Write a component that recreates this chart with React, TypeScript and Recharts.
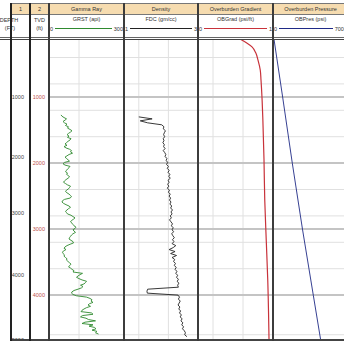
import React from 'react';
import { LineChart, Line, XAxis, YAxis, CartesianGrid, ReferenceLine } from 'recharts';

// Vertical window of the log, true vertical depth (ft)
const TVD_TOP = 120;
const TVD_BOTTOM = 4680;
const GRID_TVD = [200, 400, 600, 800, 1000, 1200, 1400, 1600, 1800, 2000, 2200, 2400, 2600, 2800, 3000, 3200, 3400, 3600, 3800, 4000, 4200, 4400, 4600];
const MAJOR_TVD = [1000, 2000, 3000, 4000];

// Depth track labels: measured depth and the TVD at which each one sits
const MD_LABELS = [1000, 2000, 3000, 4000, 5000];
const MD_LABEL_TVD = [1000, 1910, 2760, 3700, 4680];
const TVD_LABELS = [1000, 2000, 3000, 4000];

// Gamma ray (api), sampled every 20 ft from 1270 ft TVD
const GR_TOP = 1270;
const GR_STEP = 20;
const GR_API = [
  48, 52, 60, 70, 64, 56, 62, 72, 66, 78,
  74, 84, 92, 86, 78, 72, 80, 74, 88, 84,
  76, 70, 64, 72, 60, 68, 82, 90, 86, 94,
  80, 72, 64, 70, 76, 82, 62, 56, 64, 84,
  80, 74, 70, 66, 74, 70, 78, 82, 76, 68,
  62, 58, 66, 74, 86, 82, 78, 70, 66, 72,
  80, 86, 90, 84, 62, 54, 52, 58, 68, 80,
  86, 78, 72, 66, 70, 74, 88, 96, 104, 98,
  90, 86, 92, 96, 100, 108, 104, 96, 100, 106,
  96, 90, 86, 82, 80, 88, 96, 98, 84, 72,
  64, 60, 68, 58, 54, 56, 62, 60, 66, 72,
  70, 76, 82, 88, 84, 78, 86, 92, 100, 96,
  134, 124, 116, 110, 120, 132, 150, 146, 140, 126,
  136, 130, 116, 100, 92, 90, 96, 110, 150, 164,
  172, 168, 176, 162, 156, 166, 150, 140, 132, 128,
  170, 176, 134, 126, 148, 158, 186, 144, 132, 176,
  160, 182, 188, 172, 192, 186, 198,
];

// Bulk density (g/cc), sampled every 30 ft from 1300 ft TVD
const RHOB_TOP = 1300;
const RHOB_STEP = 30;
const RHOB = [
  1.40, 1.76, 1.44, 1.64, 2.02, 2.08, 2.06, 2.12, 2.09, 2.07,
  2.10, 2.06, 2.08, 2.05, 2.09, 2.07, 2.11, 2.06, 2.10, 2.13,
  2.11, 2.16, 2.14, 2.18, 2.15, 2.20, 2.17, 2.22, 2.19, 2.24,
  2.21, 2.25, 2.19, 2.22, 2.18, 2.21, 2.17, 2.23, 2.20, 2.25,
  2.22, 2.26, 2.23, 2.27, 2.24, 2.29, 2.26, 2.31, 2.27, 2.30,
  2.25, 2.28, 2.23, 2.27, 2.31, 2.28, 2.33, 2.30, 2.34, 2.29,
  2.32, 2.36, 2.31, 2.35, 2.30, 2.40, 2.33, 2.22, 2.38, 2.26,
  2.42, 2.30, 2.37, 2.34, 2.39, 2.36, 2.41, 2.38, 2.43, 2.40,
  2.45, 2.42, 2.47, 2.44, 2.48, 2.45, 2.47, 1.64, 1.62, 1.63,
  2.46, 2.50, 2.47, 2.52, 2.49, 2.46, 2.51, 2.48, 2.53, 2.50,
  2.55, 2.52, 2.57, 2.54, 2.59, 2.56, 2.61, 2.58, 2.63, 2.66,
  2.64, 2.70,
];

// Overburden gradient (psi/ft)
const OBG_TVD = [120, 180, 240, 330, 440, 590, 740, 1050, 1350, 1950, 2560, 3170, 3770, 4680];
const OBG = [0.56, 0.65, 0.72, 0.77, 0.8, 0.83, 0.84, 0.855, 0.865, 0.88, 0.89, 0.91, 0.93, 0.947];

// Overburden pressure (psi)
const OBP_TVD = [120, 1000, 2000, 3000, 4000, 4680];
const OBP = [90, 900, 1800, 2750, 3760, 4450];

const grData = GR_API.map((gr, i) => ({ tvd: GR_TOP + i * GR_STEP, gr }));
const rhobData = RHOB.map((rhob, i) => ({ tvd: RHOB_TOP + i * RHOB_STEP, rhob }));
const obgData = OBG_TVD.map((tvd, i) => ({ tvd, obg: OBG[i] }));
const obpData = OBP_TVD.map((tvd, i) => ({ tvd, obp: OBP[i] }));
const depthData = MD_LABEL_TVD.map((tvd, i) => ({ tvd, md: MD_LABELS[i] }));

const FONT = '"Liberation Sans", Arial, sans-serif';
const PLOT_TOP = 39;
const PLOT_H = 301;
const LINE_DARK = '#3c3c3c';

interface TrackDef {
  left: number;
  width: number;
  title: string;
  mnemonic: string;
  lo: string;
  hi: string;
  color: string;
  data: any[];
  dataKey: string;
  domain: [number, number];
  ticks: number[];
  curve?: 'linear' | 'monotone';
}

const TRACKS: TrackDef[] = [
  { left: 49, width: 75, title: 'Gamma Ray', mnemonic: 'GRST (api)', lo: '0', hi: '300', color: '#2f8a2f', data: grData, dataKey: 'gr', domain: [0, 300], ticks: [0, 60, 120, 180, 240, 300] },
  { left: 124, width: 74, title: 'Density', mnemonic: 'FDC (gm/cc)', lo: '1', hi: '3', color: '#222222', data: rhobData, dataKey: 'rhob', domain: [1, 3], ticks: [1, 1.4, 1.8, 2.2, 2.6, 3] },
  { left: 198, width: 75, title: 'Overburden Gradient', mnemonic: 'OBGrad (psi/ft)', lo: '0', hi: '1', color: '#c8323a', data: obgData, dataKey: 'obg', domain: [0, 1], ticks: [0, 0.2, 0.4, 0.6, 0.8, 1], curve: 'monotone' },
  { left: 273, width: 75, title: 'Overburden Pressure', mnemonic: 'OBPres (psi)', lo: '0', hi: '7000', color: '#1f2a86', data: obpData, dataKey: 'obp', domain: [0, 7000], ticks: [0, 1400, 2800, 4200, 5600, 7000] },
];

function Track({ t }: { t: TrackDef }) {
  return (
    <div style={{ position: 'absolute', left: t.left, top: PLOT_TOP, width: t.width, height: PLOT_H }}>
      <LineChart width={t.width} height={PLOT_H} data={t.data} layout="vertical" margin={{ top: 0, right: 0, bottom: 0, left: 0 }}>
        <CartesianGrid stroke="#e0e0e0" strokeWidth={1} />
        <XAxis type="number" domain={t.domain} ticks={t.ticks} hide allowDataOverflow />
        <YAxis type="number" dataKey="tvd" domain={[TVD_TOP, TVD_BOTTOM]} ticks={GRID_TVD} hide allowDataOverflow />
        {MAJOR_TVD.map((v) => (
          <ReferenceLine key={v} y={v} stroke="#c4c4c4" strokeWidth={2} />
        ))}
        <Line
          type={t.curve ?? 'linear'}
          dataKey={t.dataKey}
          stroke={t.color}
          strokeWidth={t.curve ? 1.2 : 0.9}
          dot={false}
          isAnimationActive={false}
        />
      </LineChart>
    </div>
  );
}

function DepthTrack() {
  const mdTick = (p: any) => (
    <text x={24} y={p.y} dy={2} textAnchor="end" fontSize={5.5} fill="#444" fontFamily={FONT}>
      {MD_LABELS[MD_LABEL_TVD.indexOf(p.payload.value)]}
    </text>
  );
  const tvdTick = (p: any) => (
    <text x={45} y={p.y} dy={2} textAnchor="end" fontSize={5.5} fill="#c0504d" fontFamily={FONT}>
      {p.payload.value}
    </text>
  );
  return (
    <div style={{ position: 'absolute', left: 0, top: PLOT_TOP, width: 49, height: PLOT_H }}>
      <LineChart width={49} height={PLOT_H} data={depthData} layout="vertical" margin={{ top: 0, right: 0, bottom: 0, left: 0 }}>
        <XAxis type="number" domain={[0, 1]} hide />
        <YAxis yAxisId="md" type="number" dataKey="tvd" domain={[TVD_TOP, TVD_BOTTOM]} ticks={MD_LABEL_TVD} interval={0} width={1} axisLine={false} tickLine={false} tick={mdTick} allowDataOverflow />
        <YAxis yAxisId="tvd" type="number" dataKey="tvd" domain={[TVD_TOP, TVD_BOTTOM]} ticks={TVD_LABELS} interval={0} width={1} axisLine={false} tickLine={false} tick={tvdTick} allowDataOverflow />
      </LineChart>
    </div>
  );
}

const vline = (x: number, top: number, bottom: number, w: number, color: string) => (
  <div key={`v${x}-${top}`} style={{ position: 'absolute', left: x - w / 2, top, width: w, height: bottom - top, background: color }} />
);
const hline = (y: number, left: number, right: number, w: number, color: string) => (
  <div key={`h${y}-${left}`} style={{ position: 'absolute', left, top: y - w / 2, width: right - left, height: w, background: color }} />
);

const cellText: React.CSSProperties = {
  position: 'absolute',
  fontFamily: FONT,
  fontSize: 5.5,
  color: '#333',
  whiteSpace: 'nowrap',
  textAlign: 'center',
  lineHeight: '6px',
};

export default function App() {
  return (
    <div style={{ position: 'relative', width: 344, height: 341, overflow: 'hidden', background: '#fff' }}>
      <style>{'body{margin:0}'}</style>

      {/* Header: track numbers / titles */}
      <div style={{ position: 'absolute', left: 11, top: 3, width: 340, height: 11, background: '#f6dcb0' }} />
      <div style={{ ...cellText, left: 11, top: 6, width: 19 }}>1</div>
      <div style={{ ...cellText, left: 30, top: 6, width: 19 }}>2</div>
      <div style={{ ...cellText, left: -2, top: 17, width: 22 }}>DEPTH</div>
      <div style={{ ...cellText, left: -1, top: 25, width: 22 }}>(FT)</div>
      <div style={{ ...cellText, left: 30, top: 17, width: 19 }}>TVD</div>
      <div style={{ ...cellText, left: 30, top: 25, width: 19 }}>(ft)</div>
      {TRACKS.map((t) => (
        <React.Fragment key={t.title}>
          <div style={{ ...cellText, left: t.left, top: 6, width: t.width }}>{t.title}</div>
          <div style={{ ...cellText, left: t.left, top: 16, width: t.width }}>{t.mnemonic}</div>
          <div
            style={{
              position: 'absolute',
              left: t.left + 1,
              top: 25,
              width: t.width - 2,
              height: 7,
              display: 'flex',
              alignItems: 'center',
              fontFamily: FONT,
              fontSize: 5.5,
              color: '#333',
            }}
          >
            <span>{t.lo}</span>
            <span style={{ flex: 1, height: 1, background: t.color, margin: '0 2px' }} />
            <span>{t.hi}</span>
          </div>
        </React.Fragment>
      ))}

      {/* Data tracks */}
      <DepthTrack />
      {TRACKS.map((t) => (
        <Track key={t.dataKey} t={t} />
      ))}

      {/* Frame */}
      {hline(3, 11, 344, 1, '#777')}
      {hline(14, 11, 344, 1, '#777')}
      {hline(37, 0, 344, 1, '#666')}
      {hline(39.5, 0, 344, 1, '#444')}
      {hline(340, 11, 344, 1.2, '#444')}
      {vline(11, 3, 341, 1.3, '#222')}
      {vline(30, 3, 341, 1.3, '#222')}
      {vline(49, 3, 341, 2, LINE_DARK)}
      {vline(124, 3, 341, 2, LINE_DARK)}
      {vline(198, 3, 341, 2, LINE_DARK)}
      {vline(273, 3, 341, 2, LINE_DARK)}
    </div>
  );
}
